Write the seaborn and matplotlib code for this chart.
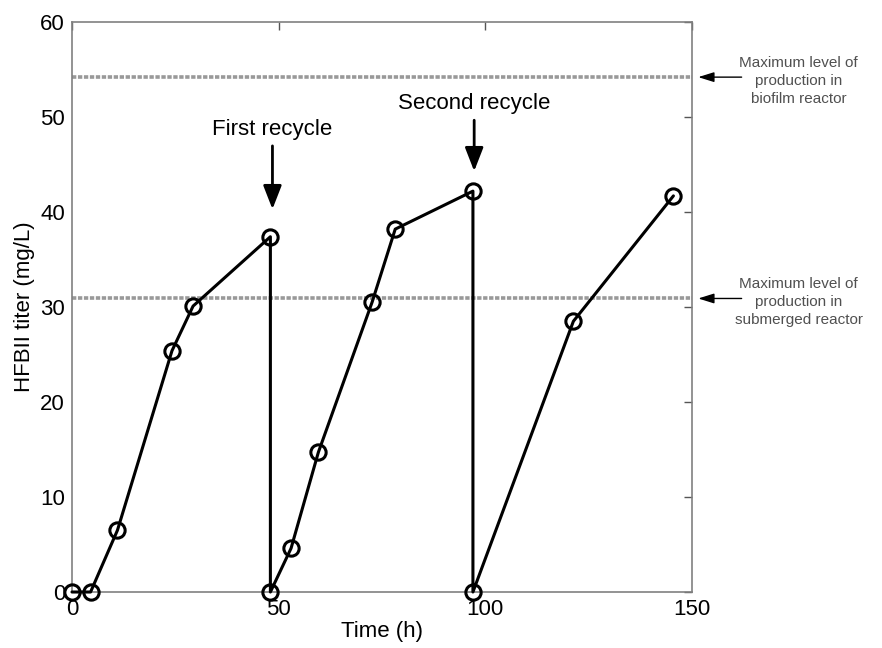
import matplotlib
matplotlib.use("Agg")
import matplotlib.pyplot as plt
import seaborn as sns
import pandas as pd

# HFBII titer over three production cycles
time_h = [0, 4.5, 11, 24.2, 29.3, 48, 48, 53, 59.6, 72.6, 78.2, 97, 97, 121.3, 145.5]
titer = [0, 0, 6.5, 25.4, 30.1, 37.4, 0, 4.6, 14.7, 30.5, 38.2, 42.2, 0, 28.5, 41.7]

max_biofilm = 54.2
max_submerged = 30.9

x_ticks = [0, 50, 100, 150]
y_ticks = [0, 10, 20, 30, 40, 50, 60]

sns.set_theme(style="white")
plt.rcParams["font.family"] = ["Liberation Sans", "DejaVu Sans"]
plt.rcParams["text.color"] = "black"
plt.rcParams["axes.labelcolor"] = "black"

df = pd.DataFrame({"Time (h)": time_h, "HFBII titer (mg/L)": titer})

fig = plt.figure(figsize=(8.82, 6.48), dpi=100)
ax = fig.add_axes([0.0816, 0.0864, 0.7030, 0.8796])

sns.lineplot(data=df, x="Time (h)", y="HFBII titer (mg/L)", sort=False,
             estimator=None, color="black", linewidth=2.2, marker="o",
             markersize=11, markerfacecolor="none", markeredgecolor="black",
             markeredgewidth=2.2, ax=ax, clip_on=False, zorder=5)

for level in (max_biofilm, max_submerged):
    ax.axhline(level, color="#999999", linestyle=(0, (1.2, 0.45)),
               linewidth=2.6, zorder=2)

ax.set_xlim(0, 150)
ax.set_ylim(0, 60)
ax.set_xticks(x_ticks)
ax.set_yticks(y_ticks)
ax.tick_params(axis="both", which="both", direction="in", length=6, width=1,
               color="#555555", labelsize=16, labelcolor="black",
               top=True, right=True, pad=5)
for sp in ax.spines.values():
    sp.set_color("#808080")
    sp.set_linewidth(1.2)

ax.set_xlabel("Time (h)", fontsize=16, labelpad=1)
ax.set_ylabel("HFBII titer (mg/L)", fontsize=16, labelpad=4)

# recycle markers
ax.annotate("First recycle", xy=(48.5, 40.3), xytext=(48.5, 47.6),
            ha="center", va="bottom", fontsize=16,
            arrowprops=dict(arrowstyle="-|>,head_length=0.9,head_width=0.35",
                            color="black", lw=2, shrinkA=2, shrinkB=0))
ax.annotate("Second recycle", xy=(97.3, 44.3), xytext=(97.3, 50.3),
            ha="center", va="bottom", fontsize=16,
            arrowprops=dict(arrowstyle="-|>,head_length=0.9,head_width=0.35",
                            color="black", lw=2, shrinkA=2, shrinkB=0))

# side notes for the reference levels
for level, txt in ((max_biofilm, "Maximum level of\nproduction in\nbiofilm reactor"),
                   (max_submerged, "Maximum level of\nproduction in\nsubmerged reactor")):
    ax.annotate("", xy=(151.5, level), xytext=(162, level),
                annotation_clip=False,
                arrowprops=dict(arrowstyle="-|>,head_length=0.8,head_width=0.25",
                                color="black", lw=1.0, shrinkA=0, shrinkB=0))
    ax.text(175.8, level - 0.4, txt, ha="center", va="center", fontsize=11,
            color="#505050", linespacing=1.35, clip_on=False)

fig.savefig("out.png", dpi=100)
